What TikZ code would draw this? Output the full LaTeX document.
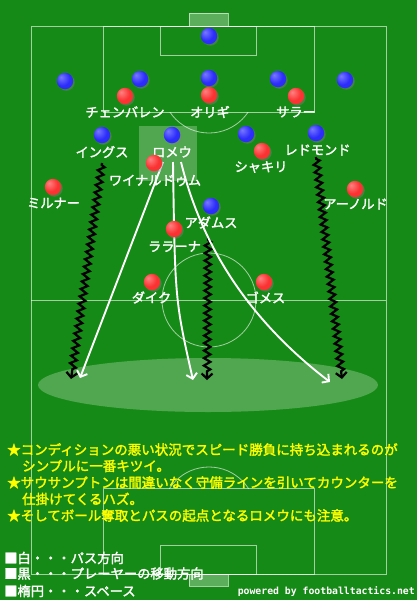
\documentclass[tikz,border=0pt]{standalone}
\usepackage{fontspec}
\newfontfamily\jp{Noto Sans CJK JP}[FakeBold=2]
\setmonofont{DejaVu Sans Mono}
\usetikzlibrary{arrows.meta,decorations.pathmorphing,shadows}
\definecolor{grass}{RGB}{22,138,22}
\definecolor{ptxt}{RGB}{255,255,0}
\definecolor{redhi}{RGB}{255,130,130}
\definecolor{redmid}{RGB}{250,50,50}
\definecolor{redlo}{RGB}{215,25,25}
\definecolor{bluehi}{RGB}{120,120,255}
\definecolor{bluemid}{RGB}{45,45,250}
\definecolor{bluelo}{RGB}{25,25,200}
\pgfdeclareradialshading{redball}{\pgfpoint{-12bp}{12bp}}{color(0bp)=(redhi); color(22bp)=(redmid); color(50bp)=(redmid); color(70bp)=(redlo)}
\pgfdeclareradialshading{blueball}{\pgfpoint{-12bp}{12bp}}{color(0bp)=(bluehi); color(22bp)=(bluemid); color(50bp)=(bluemid); color(70bp)=(bluelo)}
\begin{document}
\begin{tikzpicture}[x=1pt,y=-1pt,
  pline/.style={draw=white,draw opacity=0.6,line width=0.8pt},
  goalbox/.style={pline,fill=white,fill opacity=0.3},
  player/.style={circle,minimum size=16.5pt,inner sep=0pt,
    drop shadow={shadow xshift=1.5pt,shadow yshift=-1.5pt,opacity=0.4}},
  blueP/.style={player,shading=blueball},
  redP/.style={player,shading=redball},
  lbl/.style={text=white,font=\jp\fontsize{13.2}{14}\selectfont,inner sep=0pt},
  note/.style={text=ptxt,font=\jp\fontsize{13.5}{16}\selectfont,anchor=west,inner sep=0pt},
  legend/.style={text=white,font=\jp\fontsize{13.3}{15}\selectfont,anchor=west,inner sep=0pt},
  pass/.style={draw=white,line width=1.9pt,-{Straight Barb[length=5pt,width=11pt]}},
  move/.style={draw=black,line width=2.2pt,
    decoration={zigzag,segment length=7.5pt,amplitude=3.2pt,pre length=2pt,post length=7pt},
    decorate,-{Straight Barb[length=5pt,width=11pt]}},
]
\useasboundingbox (0,0) rectangle (417,600);
% grass
\fill[grass] (0,0) rectangle (417,600);
% pitch lines
\draw[pline] (31,26) rectangle (386,574);
\draw[pline] (31,300) -- (386,300);
\draw[pline] (209,300) circle[radius=47];
\draw[pline] (103,26) rectangle (314,112);
\draw[pline] (160,26) rectangle (256,55);
\begin{scope}
  \clip (0,112) rectangle (417,200);
  \draw[pline] (209,86) circle[radius=47];
\end{scope}
\draw[pline] (103,488) rectangle (314,574);
\draw[pline] (160,545) rectangle (256,574);
\begin{scope}
  \clip (0,400) rectangle (417,488);
  \draw[pline] (209,514) circle[radius=47];
\end{scope}
\draw[goalbox] (189,13) rectangle (228,26);
\draw[goalbox] (189,574) rectangle (228,586);
% space ellipse and Romeu zone
\fill[white,opacity=0.25] (208,385) ellipse[x radius=170,y radius=27];
\fill[white,opacity=0.25] (139,126) rectangle (197,181);
% labels
\node[lbl] (lChamb) at (125,112) {チェンバレン};
\node[lbl] (lOrigi) at (210,112) {オリギ};
\node[lbl] (lSalah) at (296,112) {サラー};
\node[lbl] (lIngs) at (102,152) {イングス};
\node[lbl] (lRomeu) at (172,152) {ロメウ};
\node[lbl] (lRed) at (317.5,150) {レドモンド};
\node[lbl] (lWijn) at (155,180.5) {ワイナルドゥム};
\node[lbl] (lShaq) at (261,167) {シャキリ};
\node[lbl] (lMiln) at (53.5,203) {ミルナー};
\node[lbl] (lArn) at (355.5,204) {アーノルド};
\node[lbl] (lAdams) at (211,222.5) {アダムス};
\node[lbl] (lLall) at (174.5,246.5) {ララーナ};
\node[lbl] (lDijk) at (151.5,297.5) {ダイク};
\node[lbl] (lGomez) at (265.5,297.5) {ゴメス};
% movement start / end points
\coordinate (mIngsS) at (102,163);
\coordinate (mIngsE) at (71,379);
\coordinate (mAdamsS) at (208,238);
\coordinate (mAdamsE) at (207,380);
\coordinate (mRedS) at (316,157);
\coordinate (mRedE) at (342,379);
\coordinate (p1S) at (163,162);
\coordinate (p1E) at (80,378);
\coordinate (p2S) at (173,162);
\coordinate (p2E) at (193,380);
\coordinate (p3S) at (181,162);
\coordinate (p3E) at (330,382);
% player movements
\draw[move] (mIngsS) -- (mIngsE);
\draw[move] (mAdamsS) -- (mAdamsE);
\draw[move] (mRedS) -- (mRedE);
% passes
\draw[pass] (p1S) -- (p1E);
\draw[pass] (p2S) .. controls (175,300) .. (p2E);
\draw[pass] (p3S) .. controls (205,260) and (262,330) .. (p3E);
% blue players
\node[blueP] (bGK) at (209,36) {};
\node[blueP] (b1) at (65,81) {};
\node[blueP] (b2) at (140,79) {};
\node[blueP] (b3) at (209,78) {};
\node[blueP] (b4) at (278,79) {};
\node[blueP] (b5) at (345,80) {};
\node[blueP] (bIngs) at (102,135) {};
\node[blueP] (bRomeu) at (172,135) {};
\node[blueP] (b8) at (246,134) {};
\node[blueP] (bRed) at (316,133) {};
\node[blueP] (bAdams) at (211,206) {};
% red players
\node[redP] (rChamb) at (125,96) {};
\node[redP] (rOrigi) at (209,95) {};
\node[redP] (rSalah) at (296,96) {};
\node[redP] (rWijn) at (154,163) {};
\node[redP] (rShaq) at (262,151) {};
\node[redP] (rMiln) at (53,187) {};
\node[redP] (rArn) at (355,189) {};
\node[redP] (rLall) at (174,229) {};
\node[redP] (rDijk) at (152,282) {};
\node[redP] (rGomez) at (264,282) {};
% notes
\node[note] (n1) at (7,449.5) {★コンディションの悪い状況でスピード勝負に持ち込まれるのが};
\node[note] (n2) at (22,466) {シンプルに一番キツイ。};
\node[note] (n3) at (7,482.5) {★サウサンプトンは間違いなく守備ラインを引いてカウンターを};
\node[note] (n4) at (22,499) {仕掛けてくるハズ。};
\node[note] (n5) at (7,515.5) {★そしてボール奪取とパスの起点となるロメウにも注意。};
% legend
\node[legend] (g1) at (4,558) {■白・・・パス方向};
\node[legend] (g2) at (4,573.5) {■黒・・・プレーヤーの移動方向};
\node[legend] (g3) at (4,591) {■楕円・・・スペース};
\node[text=white,font=\ttfamily\bfseries\fontsize{9.8}{10}\selectfont,anchor=east,inner sep=0pt] (pw) at (415,592) {powered by footballtactics.net};
\end{tikzpicture}
\end{document}
